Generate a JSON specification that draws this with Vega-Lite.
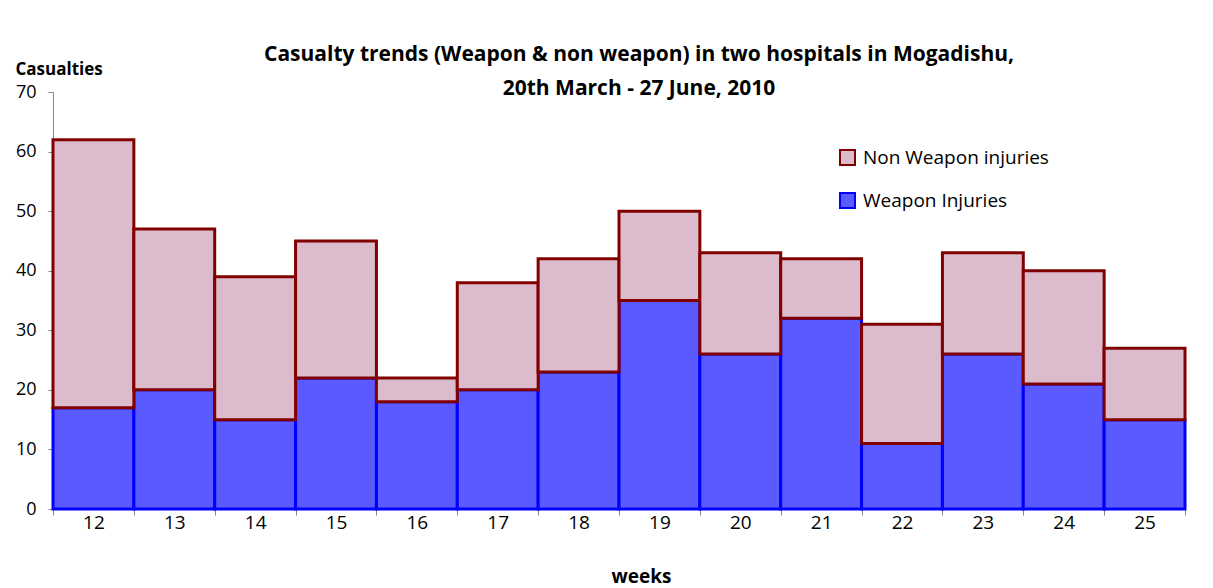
{
  "$schema": "https://vega.github.io/schema/vega-lite/v6.json",
  "autosize": "none",
  "width": 1132,
  "height": 417,
  "padding": {"left": 53, "top": 92, "right": 28, "bottom": 79},
  "background": "white",
  "config": {
    "font": "Open Sans",
    "view": {"stroke": null}
  },
  "title": {
    "text": ["Casualty trends (Weapon & non weapon) in two hospitals in Mogadishu,", "20th March - 27 June, 2010"],
    "anchor": "middle",
    "frame": "group",
    "dx": 20,
    "fontSize": 21,
    "fontWeight": "bold",
    "lineHeight": 34,
    "color": "#000000",
    "offset": -39
  },
  "data": {
    "values": [
      {"week": "12", "type": "Weapon Injuries", "value": 17, "ord": 0},
      {"week": "13", "type": "Weapon Injuries", "value": 20, "ord": 0},
      {"week": "14", "type": "Weapon Injuries", "value": 15, "ord": 0},
      {"week": "15", "type": "Weapon Injuries", "value": 22, "ord": 0},
      {"week": "16", "type": "Weapon Injuries", "value": 18, "ord": 0},
      {"week": "17", "type": "Weapon Injuries", "value": 20, "ord": 0},
      {"week": "18", "type": "Weapon Injuries", "value": 23, "ord": 0},
      {"week": "19", "type": "Weapon Injuries", "value": 35, "ord": 0},
      {"week": "20", "type": "Weapon Injuries", "value": 26, "ord": 0},
      {"week": "21", "type": "Weapon Injuries", "value": 32, "ord": 0},
      {"week": "22", "type": "Weapon Injuries", "value": 11, "ord": 0},
      {"week": "23", "type": "Weapon Injuries", "value": 26, "ord": 0},
      {"week": "24", "type": "Weapon Injuries", "value": 21, "ord": 0},
      {"week": "25", "type": "Weapon Injuries", "value": 15, "ord": 0},
      {"week": "12", "type": "Non Weapon injuries", "value": 45, "ord": 1},
      {"week": "13", "type": "Non Weapon injuries", "value": 27, "ord": 1},
      {"week": "14", "type": "Non Weapon injuries", "value": 24, "ord": 1},
      {"week": "15", "type": "Non Weapon injuries", "value": 23, "ord": 1},
      {"week": "16", "type": "Non Weapon injuries", "value": 4, "ord": 1},
      {"week": "17", "type": "Non Weapon injuries", "value": 18, "ord": 1},
      {"week": "18", "type": "Non Weapon injuries", "value": 19, "ord": 1},
      {"week": "19", "type": "Non Weapon injuries", "value": 15, "ord": 1},
      {"week": "20", "type": "Non Weapon injuries", "value": 17, "ord": 1},
      {"week": "21", "type": "Non Weapon injuries", "value": 10, "ord": 1},
      {"week": "22", "type": "Non Weapon injuries", "value": 20, "ord": 1},
      {"week": "23", "type": "Non Weapon injuries", "value": 17, "ord": 1},
      {"week": "24", "type": "Non Weapon injuries", "value": 19, "ord": 1},
      {"week": "25", "type": "Non Weapon injuries", "value": 12, "ord": 1}
    ]
  },
  "mark": {"type": "bar", "strokeWidth": 3, "fillOpacity": 1},
  "encoding": {
    "x": {
      "field": "week",
      "type": "ordinal",
      "sort": null,
      "scale": {"paddingInner": 0, "paddingOuter": 0},
      "axis": {
        "title": "weeks",
        "titleFontSize": 19,
        "titleFontWeight": "bold",
        "titleColor": "#000000",
        "titleX": 588,
        "titleY": 67,
        "titleBaseline": "middle",
        "labelAngle": 0,
        "labelFontSize": 19,
        "labelColor": "#000000",
        "labelPadding": -2,
        "tickBand": "extent",
        "tickSize": 6,
        "tickColor": "#868686",
        "domainColor": "#868686",
        "grid": false
      }
    },
    "y": {
      "field": "value",
      "type": "quantitative",
      "stack": "zero",
      "scale": {"domain": [0, 70], "nice": false},
      "axis": {
        "title": "Casualties",
        "titleAngle": 0,
        "titleAlign": "left",
        "titleBaseline": "alphabetic",
        "titleX": -38,
        "titleY": -18,
        "titleFontSize": 17,
        "titleFontWeight": "bold",
        "titleColor": "#000000",
        "values": [0, 10, 20, 30, 40, 50, 60, 70],
        "labelFontSize": 18,
        "labelColor": "#000000",
        "labelPadding": 12,
        "tickSize": 5,
        "tickColor": "#868686",
        "domainColor": "#868686",
        "grid": false
      }
    },
    "color": {
      "field": "type",
      "type": "nominal",
      "scale": {"domain": ["Non Weapon injuries", "Weapon Injuries"], "range": ["#dcbccc", "#5a5aff"]},
      "legend": {
        "title": null,
        "orient": "none",
        "legendX": 785,
        "legendY": 56,
        "symbolType": "square",
        "symbolSize": 225,
        "symbolStrokeWidth": 2,
        "labelFontSize": 19,
        "labelLimit": 400,
        "labelColor": "#000000",
        "labelOffset": 6,
        "rowPadding": 20
      }
    },
    "stroke": {
      "field": "type",
      "type": "nominal",
      "scale": {"domain": ["Non Weapon injuries", "Weapon Injuries"], "range": ["#800000", "#0000ff"]},
      "legend": null
    },
    "order": {"field": "ord", "type": "quantitative"}
  }
}
